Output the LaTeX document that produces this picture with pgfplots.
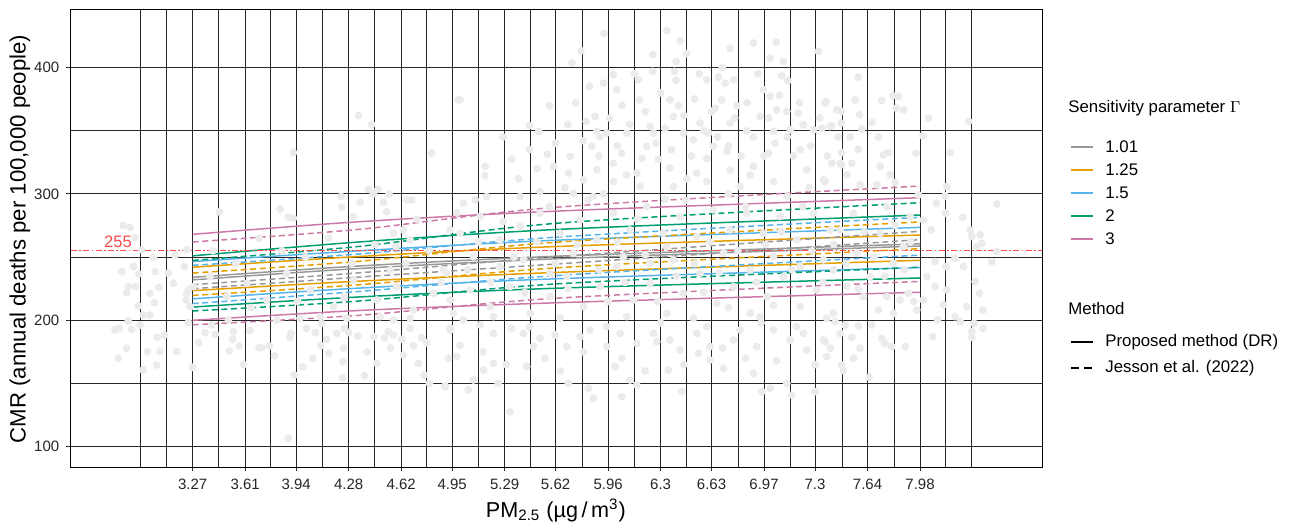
\documentclass[border=0pt]{standalone}
\usepackage{pgfplots}
\pgfplotsset{compat=1.18}
\usepackage{pgfplotstable}
\usepackage{fontspec}
\setmainfont{Liberation Sans}
\definecolor{ptgrey}{RGB}{235,235,235}
\definecolor{cgrey}{HTML}{999999}
\definecolor{corange}{HTML}{E69F00}
\definecolor{cblue}{HTML}{56B4E9}
\definecolor{cgreen}{HTML}{009E73}
\definecolor{cpink}{HTML}{CC79A7}
\definecolor{cred}{RGB}{250,75,75}
\pgfplotstableread{
x y
2.821 275.0
2.864 273.4
2.896 265.5
2.810 238.5
2.886 242.5
2.922 236.7
2.853 226.7
2.842 221.9
2.901 226.7
2.940 255.7
3.015 249.6
3.026 238.5
3.052 226.1
3.112 237.2
3.145 229.3
2.993 221.4
3.022 214.0
2.918 211.4
2.950 204.2
2.993 204.2
2.853 199.5
2.929 196.3
2.875 192.9
2.767 192.4
2.795 193.7
2.842 177.9
2.788 169.9
2.976 175.2
3.058 175.2
3.041 186.6
3.086 188.4
3.166 175.2
2.950 160.7
3.037 164.7
3.155 251.7
3.231 255.7
3.216 242.5
3.242 224.0
3.227 216.1
3.253 210.8
3.242 198.2
3.270 162.8
3.443 285.8
3.309 182.3
3.350 190.3
3.417 189.0
3.393 196.3
3.501 200.3
3.533 191.1
3.529 185.0
3.570 179.7
3.507 175.8
3.641 191.8
3.700 178.4
3.766 179.7
3.717 178.4
3.836 287.9
3.889 281.6
3.922 280.8
3.907 189.7
3.900 186.3
3.928 156.7
3.982 163.3
4.047 169.9
3.922 332.7
3.889 106.6
4.008 193.7
4.064 190.3
4.105 197.6
4.138 185.0
4.151 173.9
4.203 189.7
4.231 297.9
4.235 289.5
4.252 193.7
4.246 177.9
4.244 167.3
4.241 154.6
4.280 190.3
4.311 282.1
4.339 187.6
4.354 293.4
4.382 156.2
4.408 303.7
4.440 300.0
4.470 303.7
4.505 293.4
4.526 286.0
4.541 299.8
4.429 354.9
4.343 362.0
4.444 187.1
4.462 166.0
4.511 186.3
4.537 191.1
4.570 188.4
4.634 172.6
4.624 185.0
4.656 295.3
4.688 295.3
4.678 193.7
4.732 166.0
4.753 186.3
4.768 156.7
4.785 182.3
4.803 150.2
4.818 332.2
4.904 148.3
4.926 169.9
4.937 192.4
4.937 271.5
4.991 374.4
4.634 271.5
4.678 263.6
4.570 268.9
4.587 258.3
3.231 221.4
3.274 226.7
3.382 234.6
3.490 218.8
3.620 229.3
3.749 216.1
3.879 237.2
4.030 224.0
4.181 210.8
4.311 232.0
4.462 216.1
4.591 226.7
4.699 208.2
4.829 221.4
4.894 239.9
4.958 205.6
4.483 202.9
4.678 201.6
4.095 202.9
3.814 200.3
4.267 201.6
3.965 201.6
4.570 200.3
5.001 374.4
5.163 321.7
5.163 314.3
5.336 327.5
5.450 353.9
5.511 349.4
5.580 369.7
5.567 331.4
5.725 403.5
5.785 413.2
5.818 357.3
5.876 361.2
5.934 426.7
5.930 387.6
5.994 394.2
6.016 382.4
5.887 349.4
5.908 345.4
5.951 348.1
5.854 337.5
5.994 324.3
6.048 332.2
6.081 348.1
6.156 390.3
6.163 374.4
6.249 396.9
6.232 353.3
6.254 348.1
6.210 337.5
6.286 327.3
6.340 429.1
6.390 396.9
6.401 404.8
6.361 374.4
6.416 369.7
6.426 421.1
6.469 410.9
6.383 361.2
6.448 348.1
6.513 342.8
6.556 356.0
6.599 390.3
6.675 392.4
6.718 387.6
6.696 374.4
6.772 390.3
6.793 369.7
6.750 356.0
6.653 367.8
6.610 348.1
6.642 337.5
6.729 333.5
6.858 349.9
6.901 419.3
6.966 382.4
7.009 377.1
7.009 407.4
7.085 393.4
7.095 404.8
7.123 389.5
7.052 366.5
6.944 361.2
7.117 365.2
7.193 363.9
7.225 354.6
7.139 350.7
7.031 349.4
7.290 350.7
7.322 412.7
7.372 373.1
7.398 353.3
7.441 366.5
6.999 332.2
7.204 334.9
6.901 321.7
6.750 319.0
6.534 316.4
6.361 320.4
6.146 316.4
5.887 319.0
5.800 311.1
5.714 329.6
5.606 321.7
5.703 316.4
5.994 309.8
6.167 305.8
6.383 305.8
6.599 309.8
6.815 305.8
7.031 309.8
7.246 319.0
7.355 311.1
7.463 324.3
5.390 297.9
5.519 301.9
5.174 297.9
5.099 295.3
5.023 292.6
5.735 300.6
5.865 297.9
4.937 193.7
5.023 200.3
5.131 196.3
5.217 189.7
5.336 193.7
5.412 189.7
5.519 185.8
5.617 188.4
5.693 179.2
5.779 187.1
5.843 192.4
5.951 179.2
6.038 189.7
6.146 181.8
6.254 189.7
6.361 184.5
6.426 176.5
6.534 189.7
6.620 179.2
6.772 184.5
6.815 192.4
6.923 179.2
7.031 192.4
7.139 184.5
7.225 189.7
7.355 184.5
7.463 189.7
4.904 147.5
5.055 144.9
5.249 150.2
5.325 127.7
5.217 166.0
5.153 160.7
5.433 163.4
5.476 179.2
5.703 150.2
5.833 146.2
5.865 138.3
6.005 163.4
6.048 139.6
6.102 152.8
6.146 148.8
6.275 183.1
6.351 160.7
6.437 143.6
6.545 173.9
6.620 168.6
6.707 162.0
6.901 158.1
6.955 143.6
7.009 146.2
7.117 150.2
7.149 140.9
7.300 143.6
7.246 176.5
7.376 171.3
4.980 171.3
5.088 152.8
4.937 216.1
5.066 224.0
5.196 210.8
5.325 226.7
5.455 205.6
5.584 218.8
5.693 234.6
5.800 210.8
5.908 226.7
6.016 242.5
6.124 216.1
6.232 229.3
6.340 205.6
6.448 221.4
6.556 237.2
6.664 213.5
6.772 226.7
6.880 205.6
6.988 218.8
7.095 234.6
7.204 210.8
7.311 224.0
7.419 205.6
5.001 268.9
5.131 282.1
5.260 263.6
5.390 274.2
5.519 284.7
5.649 268.9
5.779 279.4
5.887 263.6
5.994 284.7
6.102 271.5
6.210 290.0
6.318 268.9
6.426 282.1
6.534 266.3
6.642 287.4
6.750 271.5
6.858 284.7
6.966 268.9
7.074 282.1
7.182 263.6
7.290 284.7
7.398 271.5
5.088 250.4
5.412 247.8
5.735 253.1
6.059 250.4
6.383 247.8
6.707 253.1
7.031 250.4
7.355 247.8
4.915 237.2
5.260 242.5
5.584 237.2
6.232 245.1
6.880 239.9
7.204 242.5
5.217 202.9
5.649 201.6
6.081 202.9
6.513 201.6
6.944 202.9
7.376 201.6
7.581 392.4
7.365 371.8
7.560 374.4
7.732 373.9
7.804 377.6
7.840 377.1
7.825 367.8
7.873 366.5
7.473 365.2
7.588 362.6
7.668 356.5
7.603 351.2
7.409 353.9
7.344 352.0
7.469 356.0
8.035 359.9
8.294 357.3
7.998 345.9
7.527 344.9
7.711 344.9
7.473 332.7
7.581 335.4
7.743 330.9
7.776 332.7
7.955 332.2
8.175 332.7
7.409 324.3
7.473 323.0
7.538 324.3
7.722 321.7
7.786 315.1
7.819 309.0
7.506 315.1
7.365 309.8
7.592 307.2
7.700 307.2
8.153 305.8
8.143 298.4
7.970 299.2
8.477 292.1
8.084 292.6
8.257 281.6
8.145 284.7
8.002 279.4
8.052 271.5
8.305 271.5
8.315 266.3
8.369 267.6
8.380 261.0
8.348 258.3
8.477 254.4
8.445 246.5
8.207 249.1
8.078 246.5
8.149 242.5
8.261 242.5
8.024 234.6
8.078 226.7
8.153 224.0
8.337 230.6
8.365 221.4
8.002 216.1
8.132 212.2
8.283 210.8
8.387 208.2
8.093 200.3
8.207 202.9
8.240 199.0
8.330 197.6
8.387 193.7
8.315 191.1
8.315 186.6
8.063 187.1
7.473 164.7
7.484 160.2
7.365 183.1
7.538 186.6
7.592 177.9
7.668 196.3
7.732 185.8
7.754 181.8
7.797 179.2
7.884 179.2
7.430 199.0
7.495 196.3
7.581 195.5
7.808 205.6
7.711 208.2
7.938 214.8
7.959 208.2
7.851 216.1
7.905 221.4
7.765 218.8
7.614 218.8
7.506 226.7
7.657 234.6
7.808 245.1
7.419 239.9
7.570 253.1
7.873 258.3
7.722 268.9
7.463 271.5
7.916 282.1
7.549 284.7
7.765 290.0
5.62 340
5.70 355
5.75 372
5.80 342
5.84 385
5.90 330
5.97 360
6.02 338
6.05 370
6.10 355
6.13 395
6.18 328
6.20 365
6.27 340
6.30 380
6.33 352
6.37 335
6.40 390
6.45 362
6.50 330
6.52 375
6.58 350
6.60 328
6.63 365
6.67 345
6.70 400
6.74 338
6.78 360
6.82 330
6.86 372
6.90 345
6.93 395
6.97 330
7.00 360
7.04 340
7.07 378
7.12 345
7.16 330
7.20 372
7.27 338
7.33 360
7.38 330
7.45 345
5.50 320
5.45 335
5.38 312
5.28 345
5.68 305
6.08 315
6.47 312
6.88 315
7.26 305
5.93 300
6.33 296
6.74 300
7.12 298
6.55 395
6.25 410
6.75 415
7.05 420
4.65 245
4.72 280
4.80 255
4.88 230
4.98 285
5.05 240
5.12 262
5.20 230
5.28 278
5.35 250
5.42 222
5.50 262
5.58 290
5.62 245
5.70 225
5.76 260
5.83 295
5.90 240
5.96 215
6.02 262
6.07 230
6.15 280
6.20 252
6.28 215
6.34 258
6.40 235
6.46 295
6.52 245
6.58 222
6.62 262
6.68 238
6.74 210
6.80 255
6.85 290
6.92 230
6.98 260
7.03 212
7.08 270
7.15 240
7.22 290
7.28 255
7.35 230
7.42 260
7.50 245
7.58 225
7.62 270
7.68 250
7.75 235
7.82 275
7.88 240
7.92 262
3.40 255
3.55 245
3.70 265
3.85 255
4.00 250
4.15 265
4.30 245
4.45 260
4.55 240
3.65 210
3.95 215
4.25 218
5.00 180
5.15 175
5.30 165
5.45 195
5.55 170
5.65 160
5.80 175
5.95 195
6.05 170
6.20 160
6.30 198
6.45 165
6.60 195
6.70 178
6.85 170
6.95 198
7.05 168
7.18 195
7.30 165
7.40 178
7.55 170
7.65 155
4.40 175
4.55 178
4.70 180
3.80 172
3.60 165
4.10 180
}\points
\begin{document}
\begin{tikzpicture}
\useasboundingbox (-35.35pt,-29pt) rectangle (611.15pt,233.5pt);
\begin{axis}[
  at={(0,0)}, anchor=south west,
  scale only axis, width=485.65pt, height=228.85pt,
  xmin=2.48, xmax=8.77, ymin=84, ymax=446,
  axis line style={black, line width=0.5pt},
  xtick={3.27,3.61,3.94,4.28,4.62,4.95,5.29,5.62,5.96,6.3,6.63,6.97,7.3,7.64,7.98},
  xticklabels={3.27,3.61,3.94,4.28,4.62,4.95,5.29,5.62,5.96,6.3,6.63,6.97,7.3,7.64,7.98},
  minor xtick={2.934,3.102,3.438,3.774,4.111,4.447,4.784,5.120,5.457,5.793,6.129,6.466,6.802,7.139,7.475,7.812,8.148,8.316},
  ytick={100,200,300,400},
  minor ytick={150,250,350},
  grid=both,
  major grid style={black!85, line width=0.5pt},
  minor grid style={black!85, line width=0.5pt},
  tick align=outside, major tick length=2.2pt, minor tick length=0pt,
  tick style={black!80, line width=0.5pt},
  xtick pos=bottom, ytick pos=left,
  ticklabel style={font=\fontsize{7.5}{9}\selectfont, text=black!85},
  /pgf/number format/assume math mode=true,
  xticklabel style={yshift=-0.5pt},
  clip=true,
]
\addplot[only marks, mark=*, mark size=1.75pt, color=ptgrey] table[x=x,y=y] {\points};
% Proposed method (DR), solid
\addplot[cgrey, line width=0.75pt, smooth] coordinates {(3.27,234.0) (4.35,243.0) (5.65,250.8) (7.98,260.5)};
\addplot[cgrey, line width=0.75pt, smooth] coordinates {(3.27,232.0) (4.35,241.0) (5.65,248.8) (7.98,258.8)};
\addplot[corange, line width=0.75pt, smooth] coordinates {(3.27,242.0) (4.35,250.5) (5.65,258.5) (7.98,267.5)};
\addplot[corange, line width=0.75pt, smooth] coordinates {(3.27,223.5) (4.35,231.0) (5.65,238.0) (7.98,247.5)};
\addplot[cblue, line width=0.75pt, smooth] coordinates {(3.27,246.5) (4.35,255.0) (5.65,263.5) (7.98,273.5)};
\addplot[cblue, line width=0.75pt, smooth] coordinates {(3.27,217.0) (4.35,225.5) (5.65,233.0) (7.98,241.8)};
\addplot[cgreen, line width=0.75pt, smooth] coordinates {(3.27,251.0) (4.35,262.0) (5.65,272.0) (7.98,283.3)};
\addplot[cgreen, line width=0.75pt, smooth] coordinates {(3.27,210.5) (4.35,218.5) (5.65,225.5) (7.98,233.5)};
\addplot[cpink, line width=0.75pt, smooth] coordinates {(3.27,268.0) (4.35,278.0) (5.65,286.5) (7.98,297.0)};
\addplot[cpink, line width=0.75pt, smooth] coordinates {(3.27,200.0) (4.35,207.8) (5.65,214.0) (7.98,222.2)};
% Jesson et al. (2022), dashed
\addplot[cgrey, line width=0.75pt, smooth, dash pattern=on 3pt off 1.8pt] coordinates {(3.27,225.0) (4.35,234.2) (5.65,244.8) (7.98,263.8)};
\addplot[cgrey, line width=0.75pt, smooth, dash pattern=on 3pt off 1.8pt] coordinates {(3.27,228.2) (4.35,237.6) (5.65,250.5) (7.98,270.4)};
\addplot[corange, line width=0.75pt, smooth, dash pattern=on 3pt off 1.8pt] coordinates {(3.27,219.7) (4.35,228.2) (5.65,241.7) (7.98,256.7)};
\addplot[corange, line width=0.75pt, smooth, dash pattern=on 3pt off 1.8pt] coordinates {(3.27,237.4) (4.35,246.7) (5.65,262.0) (7.98,277.8)};
\addplot[cblue, line width=0.75pt, smooth, dash pattern=on 3pt off 1.8pt] coordinates {(3.27,213.2) (4.35,222.9) (5.65,235.6) (7.98,251.6)};
\addplot[cblue, line width=0.75pt, smooth, dash pattern=on 3pt off 1.8pt] coordinates {(3.27,243.5) (4.35,252.5) (5.65,266.0) (7.98,281.5)};
\addplot[cgreen, line width=0.75pt, smooth, dash pattern=on 3pt off 1.8pt] coordinates {(3.27,207.4) (4.35,215.3) (5.65,229.0) (7.98,242.0)};
\addplot[cgreen, line width=0.75pt, smooth, dash pattern=on 3pt off 1.8pt] coordinates {(3.27,247.4) (4.35,258.5) (5.65,277.0) (7.98,293.0)};
\addplot[cpink, line width=0.75pt, smooth, dash pattern=on 3pt off 1.8pt] coordinates {(3.27,196.5) (4.35,204.0) (5.65,217.7) (7.98,230.8)};
\addplot[cpink, line width=0.75pt, smooth, dash pattern=on 3pt off 1.8pt] coordinates {(3.27,262.0) (4.35,272.0) (5.65,289.7) (7.98,306.2)};
% reference line
\addplot[cred, line width=0.7pt, dash pattern=on 3pt off 1.2pt on 0.8pt off 1.2pt] coordinates {(2.48,255) (8.77,255)};
\node[text=cred, font=\fontsize{8.3}{10}\selectfont] at (axis cs:2.786,262) {255};
\end{axis}
% axis titles
\node[rotate=90, font=\fontsize{11.1}{13}\selectfont] at (-25.35pt,114pt) {CMR (annual deaths per 100,000 people)};
\node[font=\fontsize{10.8}{12}\selectfont] at (242.6pt,-21.5pt) {PM\textsubscript{2.5} (µg\,/\,m\textsuperscript{3})};
% legend
\begin{scope}[font=\fontsize{8.4}{10}\selectfont]
\node[anchor=west, inner sep=0pt] at (498.65pt,179.5pt) {Sensitivity parameter $\Gamma$};
\draw[cgrey, line width=0.8pt] (500.15pt,160pt) -- (511.15pt,160pt);
\draw[corange, line width=0.8pt] (500.15pt,148.5pt) -- (511.15pt,148.5pt);
\draw[cblue, line width=0.8pt] (500.15pt,137pt) -- (511.15pt,137pt);
\draw[cgreen, line width=0.8pt] (500.15pt,125.5pt) -- (511.15pt,125.5pt);
\draw[cpink, line width=0.8pt] (500.15pt,114pt) -- (511.15pt,114pt);
\node[anchor=west, inner sep=0pt] at (517.15pt,160pt) {1.01};
\node[anchor=west, inner sep=0pt] at (517.15pt,148.5pt) {1.25};
\node[anchor=west, inner sep=0pt] at (517.15pt,137pt) {1.5};
\node[anchor=west, inner sep=0pt] at (517.15pt,125.5pt) {2};
\node[anchor=west, inner sep=0pt] at (517.15pt,114pt) {3};
\node[anchor=west, inner sep=0pt] at (498.65pt,79.5pt) {Method};
\draw[black, line width=0.8pt] (500.15pt,62.5pt) -- (511.15pt,62.5pt);
\draw[black, line width=0.8pt, dash pattern=on 4pt off 2.5pt] (500.15pt,49.5pt) -- (511.15pt,49.5pt);
\node[anchor=west, inner sep=0pt] at (517.15pt,62.5pt) {Proposed method (DR)};
\node[anchor=west, inner sep=0pt] at (517.15pt,49.5pt) {Jesson et al. (2022)};
\end{scope}
\end{tikzpicture}
\end{document}
